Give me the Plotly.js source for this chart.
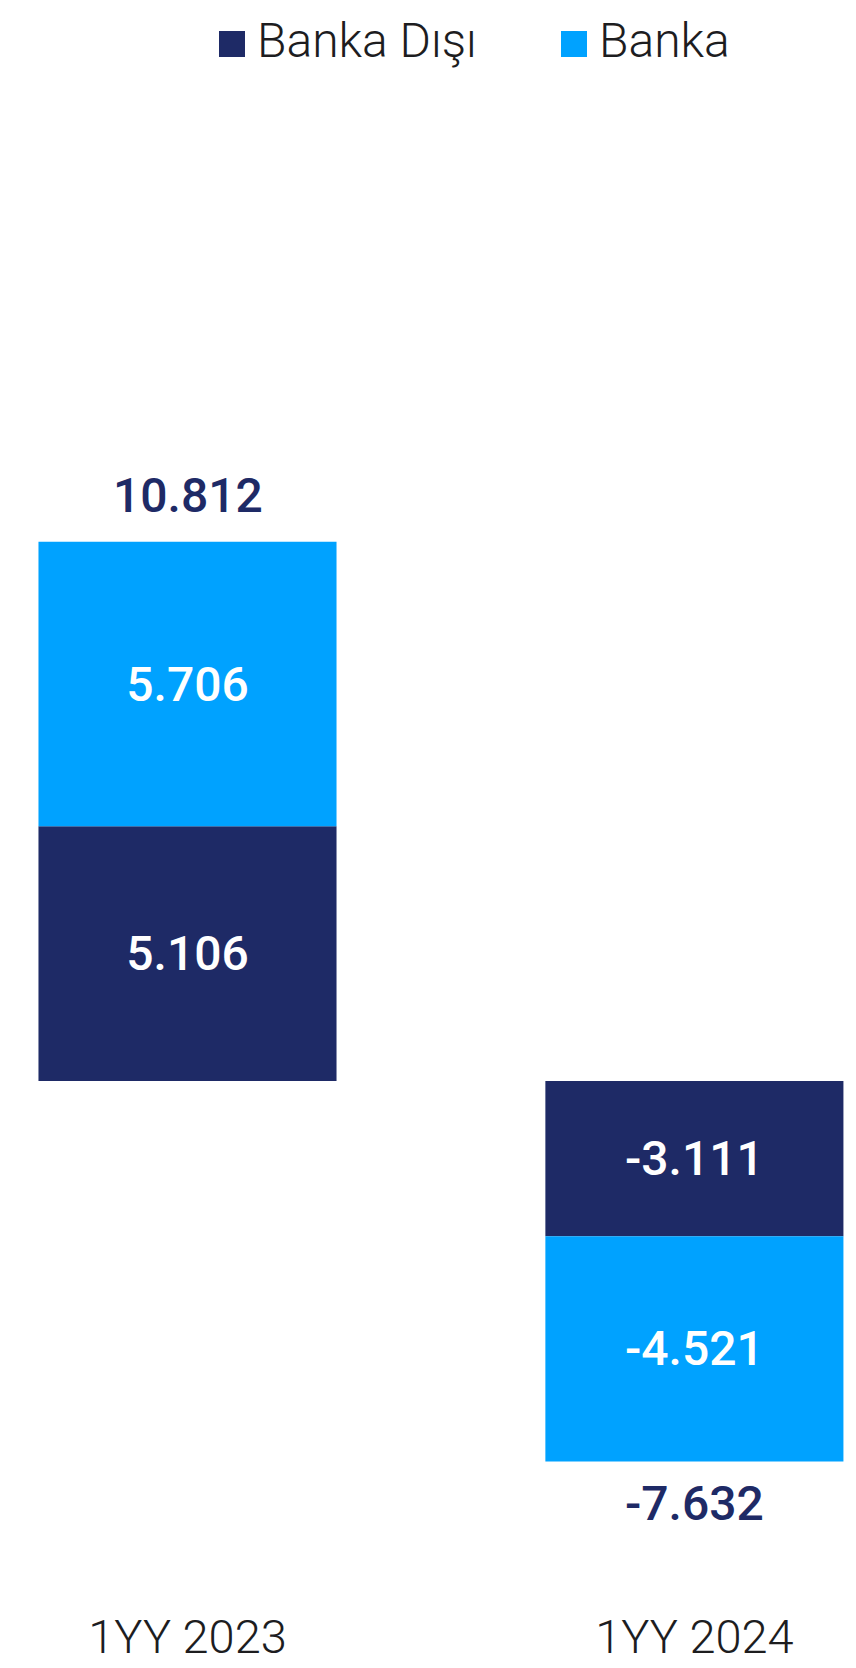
<!DOCTYPE html>
<html>
<head>
<meta charset="utf-8">
<script src="https://cdn.plot.ly/plotly-3.0.1.min.js"></script>
<style>html,body{margin:0;padding:0;background:#fff;}#chart{width:856px;height:1668px;}</style>
</head>
<body>
<div id="chart"></div>
<script>
// ---- data ----
const categories = ['1YY 2023', '1YY 2024'];
const seriesNames = ['Banka Dışı', 'Banka'];
const bankaDisi = [5.106, -3.111];
const banka = [5.706, -4.521];
const seriesColors = ['#1E2A66', '#00A2FF'];

// ---- layout helpers ----
const W = 856, H = 1668;
const mTop = 0, mBottom = 63;
const plotH = H - mTop - mBottom;
const plotBottomPx = H - mBottom;
const pxPerUnit = 49.87;
const zeroPx = 1081;
const yTop = (zeroPx - mTop) / pxPerUnit;
const yBottom = -(plotBottomPx - zeroPx) / pxPerUnit;
const catStep = 506.9, firstCenter = 187.5;
const xr0 = -firstCenter / catStep;
const xr1 = (W - firstCenter) / catStep;
const px2x = p => p / W;
const py2y = p => (plotBottomPx - p) / plotH;

const fmt = v => v.toFixed(3);
const series = [bankaDisi, banka];
const totals = categories.map((c, i) => series.reduce((s, arr) => s + arr[i], 0));

const traces = series.map((vals, k) => ({
  type: 'bar',
  name: seriesNames[k],
  x: categories,
  y: vals,
  marker: {color: seriesColors[k], line: {width: 0}},
  text: vals.map(fmt),
  textposition: 'inside',
  insidetextanchor: 'middle',
  textangle: 0,
  constraintext: 'none',
  insidetextfont: {family: 'Roboto', size: 48, color: '#ffffff', weight: 500},
  hoverinfo: 'skip',
  showlegend: false
}));

const annotations = totals.map((t, i) => ({
  x: categories[i], y: t, xref: 'x', yref: 'y',
  text: fmt(t), showarrow: false,
  xanchor: 'center', yanchor: t >= 0 ? 'bottom' : 'top',
  yshift: t >= 0 ? 16 : -11,
  font: {family: 'Roboto', size: 48, color: '#1E2A66', weight: 500}
}));

// custom legend
const legendSquares = [[219, 245], [561, 587]];
const legendTextX = [255, 597];
const shapes = [];
seriesNames.forEach((n, k) => {
  shapes.push({type: 'rect', xref: 'paper', yref: 'paper',
    x0: px2x(legendSquares[k][0]), x1: px2x(legendSquares[k][1]),
    y0: py2y(57), y1: py2y(31),
    fillcolor: seriesColors[k], line: {width: 0}});
  annotations.push({xref: 'paper', yref: 'paper', x: px2x(legendTextX[k]), y: py2y(40),
    xanchor: 'left', yanchor: 'middle', showarrow: false, text: n,
    font: {family: 'Roboto', size: 48, color: '#1d1d1f', weight: 300}});
});

const layout = {
  width: W, height: H,
  margin: {l: 0, r: 0, t: mTop, b: mBottom, pad: 0},
  paper_bgcolor: '#ffffff', plot_bgcolor: '#ffffff',
  barmode: 'relative',
  bargap: 0.412,
  showlegend: false,
  xaxis: {type: 'category', range: [xr0, xr1], showgrid: false, zeroline: false, showline: false,
    ticks: '', tickfont: {family: 'Roboto', size: 47, color: '#1d1d1f', weight: 300}, fixedrange: true},
  yaxis: {range: [yBottom, yTop], showgrid: false, zeroline: false, showline: false,
    showticklabels: false, ticks: '', fixedrange: true},
  shapes: shapes,
  annotations: annotations,
  font: {family: 'Roboto'}
};

Plotly.newPlot('chart', traces, layout, {displayModeBar: false, staticPlot: true});
</script>
</body>
</html>
